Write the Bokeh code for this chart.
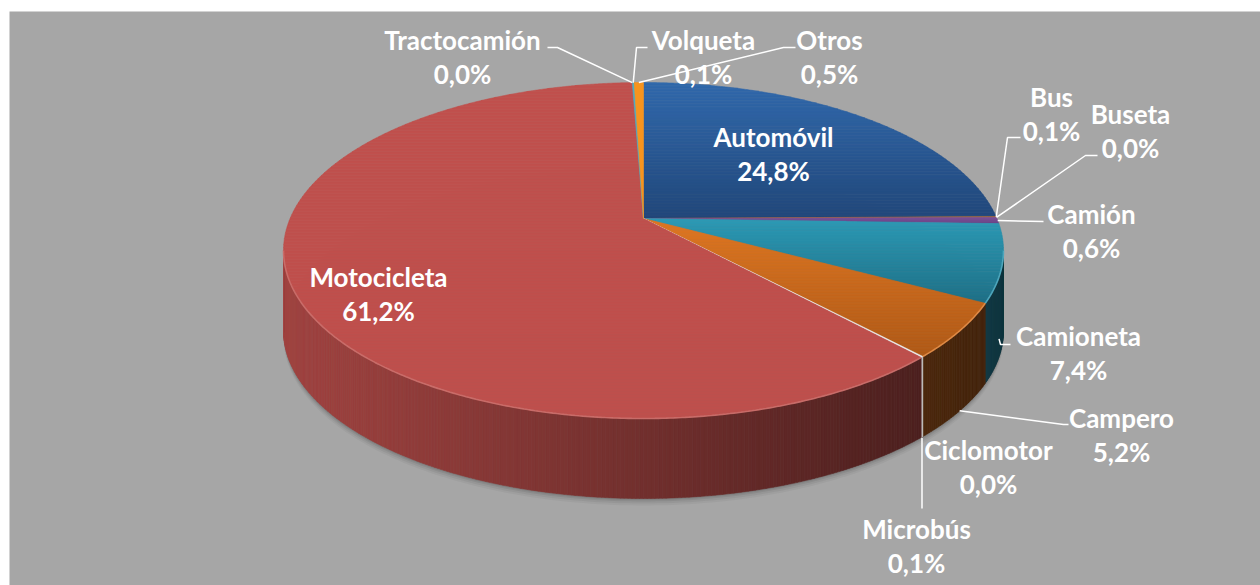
import numpy as np
from bokeh.plotting import figure
from bokeh.models import Range1d
from bokeh.embed import file_html
from bokeh.resources import INLINE
from bokeh.core.properties import value

# ---------------- data ----------------
categories = ["Automóvil", "Bus", "Buseta", "Camión", "Camioneta", "Campero",
              "Ciclomotor", "Microbús", "Motocicleta", "Tractocamión", "Volqueta", "Otros"]
percent = [24.8, 0.1, 0.0, 0.6, 7.4, 5.2, 0.0, 0.1, 61.2, 0.0, 0.1, 0.5]

# ---------------- styles ----------------
top_hi = ["#3169AC", "#A7693A", "#8A5B9E", "#7B4F98", "#2C9AB5", "#DE7622",
          "#D9D9D9", "#EDEDED", "#C0504D", "#4BACC6", "#4BACC6", "#F7941E"]
top_lo = ["#21477A", "#A7693A", "#8A5B9E", "#6A4386", "#1E6F86", "#B15A17",
          "#D9D9D9", "#EDEDED", "#BE4F4C", "#4BACC6", "#4BACC6", "#F7941E"]
wall_base = ["#2E62A2", "#A7693A", "#8A5B9E", "#7B4F98", "#2A9AB8", "#BE6420",
             "#D9D9D9", "#C8C8C8", "#C0504D", "#4BACC6", "#4BACC6", "#F7941E"]
wall_shade = [1, 1, 1, 1, 1, 1, 0, 0, 1, 1, 1, 1]
BG = "#A6A6A6"
FONT_SIZE = "26px"

# projection of the tilted disc (perspective)
CX, CY = 643.0, 218.0
A, B, K = 353.4, 161.9, 0.1905
DEPTH = 80.0

# label layout (center x, baseline of first line)
label_x = [773, 1051, 1130, 1091, 1078, 1121, 988, 916, 378, 462, 703, 829]
label_y = [136, 96, 113, 213, 335, 417, 449, 528, 276, 39, 39, 39]
LINE_GAP = 34
inside = {"Automóvil", "Motocicleta"}
leader_elbows = {
    "Bus": [(1020, 137), (1007, 137)],
    "Buseta": [(1097, 155), (1085, 155)],
    "Camión": [(1043, 221)],
    "Camioneta": [(1010, 344), (1000, 344)],
    "Campero": [(1068, 424), (1063, 424)],
    "Tractocamión": [(547, 47), (557, 47)],
    "Volqueta": [(647, 47), (636, 47)],
    "Otros": [(795, 47), (783, 47)],
}
anchor_drop = {"Camioneta": 62, "Campero": 80, "Microbús": 81}
MICRO_END_Y = 508


def proj(theta_deg, drop=0.0):
    t = np.radians(np.asarray(theta_deg, dtype=float))
    u = np.sin(t)
    v = np.cos(t)
    w = 1 + K * v
    return CX + A * u / w, CY - B * v / w + drop


def hex2rgb(h):
    h = h.lstrip("#")
    return np.array([int(h[i:i + 2], 16) for i in (0, 2, 4)], dtype=float)


def rgb2hex(c):
    c = np.clip(np.round(c), 0, 255).astype(int)
    return "#%02x%02x%02x" % tuple(c)


def clip_poly(xs, ys, ymin, ymax):
    pts = list(zip(xs, ys))
    for lim, above in ((ymin, True), (ymax, False)):
        out = []
        n = len(pts)
        if n == 0:
            break
        for i in range(n):
            P = pts[i]
            Q = pts[(i + 1) % n]
            pin = P[1] >= lim if above else P[1] <= lim
            qin = Q[1] >= lim if above else Q[1] <= lim
            if pin:
                out.append(P)
            if pin != qin:
                t = (lim - P[1]) / (Q[1] - P[1])
                out.append((P[0] + t * (Q[0] - P[0]), lim))
        pts = out
    return pts


vals = np.array(percent, dtype=float)
ang = vals / vals.sum() * 360.0
starts = np.concatenate([[0.0], np.cumsum(ang)[:-1]])
ends = starts + ang
TH0 = 90 + np.degrees(np.arcsin(K))
TH1 = 270 - np.degrees(np.arcsin(K))

p = figure(width=1260, height=585, x_range=Range1d(9, 1260), y_range=Range1d(585, 11),
           output_backend="svg", toolbar_location=None,
           min_border_left=9, min_border_top=11, min_border_right=0, min_border_bottom=0)
p.axis.visible = False
p.grid.visible = False
p.outline_line_color = None
p.background_fill_color = BG
p.border_fill_color = "white"

# soft shadow under the pie
full = np.linspace(0, 360, 361)
for off, al in ((7, 0.04), (5, 0.05), (3, 0.07), (1.5, 0.08)):
    sx, sy = proj(full, DEPTH + off)
    p.patch(list(sx), list(sy), fill_color="black", fill_alpha=al, line_color=None)

# side walls
wxs, wys, wcols = [], [], []
for i in range(len(categories)):
    a0 = max(starts[i], TH0)
    a1 = min(ends[i], TH1)
    if a1 <= a0:
        continue
    n = max(1, int(np.ceil((a1 - a0) / 0.5)))
    th = np.linspace(a0, a1, n + 1)
    tx, ty = proj(th)
    bx, by = proj(th, DEPTH)
    base = hex2rgb(wall_base[i])
    for j in range(n):
        qx = [tx[j], tx[j + 1], bx[j + 1], bx[j]]
        qy = [ty[j], ty[j + 1], by[j + 1], by[j]]
        xc = 0.5 * (tx[j] + tx[j + 1])
        f = np.clip(0.84 - 0.44 * (xc - 283) / 637.0, 0.3, 1.0)
        if not wall_shade[i]:
            f = 1.0
        wxs.append(qx)
        wys.append(qy)
        wcols.append(rgb2hex(base * f))
p.patches(wxs, wys, fill_color=wcols, line_color=wcols, line_width=0.6)

# top faces with vertical gradient bands
txs, tys, tcols = [], [], []
for i in range(len(categories)):
    if ang[i] <= 0:
        continue
    n = max(2, int(np.ceil(ang[i] / 0.25)) + 1)
    th = np.linspace(starts[i], ends[i], n)
    rx, ry = proj(th)
    xs = [CX] + list(rx)
    ys = [CY] + list(ry)
    hi, lo = hex2rgb(top_hi[i]), hex2rgb(top_lo[i])
    if top_hi[i] == top_lo[i]:
        txs.append(xs)
        tys.append(ys)
        tcols.append(top_hi[i])
        continue
    ymin, ymax = min(ys), max(ys)
    nb = max(1, int(np.ceil((ymax - ymin) / 3.0)))
    edges = np.linspace(ymin, ymax, nb + 1)
    for b in range(nb):
        pts = clip_poly(xs, ys, edges[b], edges[b + 1])
        if len(pts) < 3:
            continue
        t = (0.5 * (edges[b] + edges[b + 1]) - ymin) / max(ymax - ymin, 1e-6)
        txs.append([q[0] for q in pts])
        tys.append([q[1] for q in pts])
        tcols.append(rgb2hex(hi + (lo - hi) * t))
p.patches(txs, tys, fill_color=tcols, line_color=tcols, line_width=0.6)

# rim highlight on the front edge
for i in range(len(categories)):
    a0 = max(starts[i], TH0)
    a1 = min(ends[i], TH1)
    if a1 - a0 < 2:
        continue
    th = np.linspace(a0, a1, int((a1 - a0) / 0.5) + 2)
    rx, ry = proj(th)
    c = hex2rgb(top_hi[i])
    p.line(list(rx), list(ry), line_color=rgb2hex(c + (255 - c) * 0.18), line_width=1.6, line_alpha=0.9)

# leader lines
lxs, lys = [], []
for i, cat in enumerate(categories):
    if cat in inside or cat == "Ciclomotor":
        continue
    drop = anchor_drop.get(cat, 0.0)
    if drop > 0:
        a0 = max(starts[i], TH0)
        a1 = min(ends[i], TH1)
        th_a = 0.5 * (a0 + a1)
    else:
        th_a = 0.5 * (starts[i] + ends[i])
    ax, ay = proj(th_a, drop)
    ax, ay = float(ax), float(ay)
    if cat == "Microbús":
        pts = [(ax, MICRO_END_Y), (ax, ay)]
    else:
        pts = leader_elbows[cat] + [(ax, ay)]
    lxs.append([q[0] for q in pts])
    lys.append([q[1] for q in pts])
p.multi_line(lxs, lys, line_color="white", line_width=1.5)

# labels
pct_text = [("%.1f" % v).replace(".", ",") + "%" for v in percent]
p.text(x=label_x, y=label_y, text=categories, text_color="white",
       text_font=value("Lato"), text_font_style="bold", text_font_size=FONT_SIZE,
       text_align="center", text_baseline="alphabetic")
p.text(x=label_x, y=[y + LINE_GAP for y in label_y], text=pct_text, text_color="white",
       text_font=value("Lato"), text_font_style="bold", text_font_size=FONT_SIZE,
       text_align="center", text_baseline="alphabetic")

open("out.html", "w").write(file_html(p, INLINE))
